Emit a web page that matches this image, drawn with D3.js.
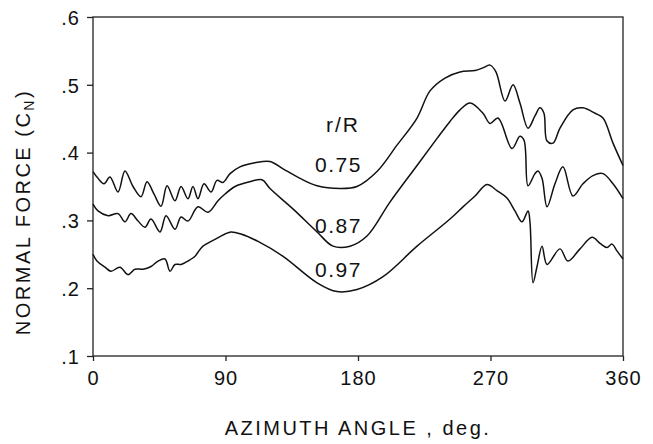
<!DOCTYPE html>
<html>
<head>
<meta charset="utf-8">
<script src="https://cdn.jsdelivr.net/npm/d3@7"></script>
<style>
  body { margin: 0; background: #fff; }
  text { font-family: "Liberation Sans", Arial, sans-serif; fill: #111; }
</style>
</head>
<body>
<svg id="chart" width="653" height="444"></svg>
<script>
// azimuth (deg) and normal force coefficient for each radial station
const r075Deg = [0, 3.4, 7.5, 11.5, 17, 21.7, 27.2, 32.6, 36.7, 41.4, 46.2, 50.3, 55.7, 59.8, 64.5, 67.9, 71.3, 75.4, 80.2, 84.2, 88.3, 93.1, 99.8, 110, 120.2, 129.1, 140.6, 152.2, 167.8, 179.3, 192.9, 206.5, 220.1, 228.9, 239.1, 249.3, 259.5, 264.9, 269.7, 273.7, 279.9, 285.3, 290, 295.5, 300.2, 303.6, 306.3, 308.4, 312.5, 317.2, 326, 332.8, 341, 346.4, 353.2, 360];
const r075Cn = [0.372, 0.362, 0.354, 0.364, 0.342, 0.373, 0.350, 0.335, 0.357, 0.339, 0.321, 0.351, 0.329, 0.350, 0.332, 0.350, 0.332, 0.354, 0.342, 0.359, 0.356, 0.369, 0.379, 0.385, 0.387, 0.376, 0.362, 0.351, 0.347, 0.350, 0.372, 0.411, 0.451, 0.491, 0.510, 0.519, 0.521, 0.525, 0.529, 0.519, 0.476, 0.500, 0.473, 0.436, 0.454, 0.466, 0.458, 0.417, 0.414, 0.436, 0.463, 0.466, 0.458, 0.451, 0.414, 0.381];

const r087Deg = [0, 3.4, 10.2, 17, 21.7, 25.8, 30.6, 35.3, 39.4, 45.5, 49.6, 55.7, 59.8, 64.5, 71.3, 78.1, 84.9, 89.7, 96.5, 106.6, 114.8, 120.2, 135.8, 152.2, 163, 174.6, 186.1, 201.7, 220.1, 233.7, 242.5, 249.3, 256.1, 264.9, 269.7, 275.1, 284.6, 290, 292.8, 295.5, 300.2, 302.3, 305, 308.4, 313.8, 319.2, 326, 332.8, 339.6, 346.4, 353.2, 360];
const r087Cn = [0.324, 0.314, 0.307, 0.310, 0.298, 0.310, 0.299, 0.290, 0.302, 0.283, 0.307, 0.287, 0.305, 0.299, 0.320, 0.312, 0.329, 0.339, 0.350, 0.357, 0.360, 0.347, 0.317, 0.283, 0.262, 0.262, 0.277, 0.327, 0.381, 0.421, 0.446, 0.463, 0.473, 0.458, 0.443, 0.451, 0.406, 0.424, 0.418, 0.351, 0.369, 0.373, 0.362, 0.320, 0.354, 0.379, 0.336, 0.354, 0.366, 0.369, 0.354, 0.332];

const r097Deg = [0, 2.7, 8.2, 12.2, 18.3, 23.8, 28.5, 34, 39.4, 44.2, 48.9, 52.3, 55.7, 59.8, 64.5, 69.3, 71.3, 74.7, 82.9, 89.7, 93.7, 100.5, 112.1, 129.1, 152.2, 165.7, 179.3, 197, 220.1, 242.5, 251.3, 259.5, 267.6, 274.4, 281.2, 286.6, 291.4, 295.5, 296.8, 298.9, 301.6, 305, 308.4, 317.2, 322.6, 330.8, 339, 344.4, 349.1, 352.5, 355.9, 360];
const r097Cn = [0.250, 0.240, 0.231, 0.225, 0.231, 0.220, 0.228, 0.228, 0.232, 0.240, 0.243, 0.225, 0.235, 0.235, 0.240, 0.247, 0.253, 0.262, 0.272, 0.280, 0.283, 0.280, 0.269, 0.247, 0.208, 0.195, 0.198, 0.217, 0.262, 0.302, 0.320, 0.336, 0.353, 0.344, 0.333, 0.314, 0.298, 0.314, 0.298, 0.208, 0.232, 0.262, 0.235, 0.258, 0.240, 0.258, 0.275, 0.266, 0.260, 0.265, 0.255, 0.243];

const xTicks = [0, 90, 180, 270, 360];
const yTicks = [0.1, 0.2, 0.3, 0.4, 0.5, 0.6];
const stationLabels = ["0.75", "0.87", "0.97"];

const svg = d3.select('#chart');
const x = d3.scaleLinear().domain([0, 360]).range([93, 623]);
const y = d3.scaleLinear().domain([0.1, 0.6]).range([356, 17]);

// frame
svg.append('rect')
    .attr('x', x(0)).attr('y', y(0.6))
    .attr('width', x(360) - x(0)).attr('height', y(0.1) - y(0.6))
    .attr('fill', 'none').attr('stroke', '#222').attr('stroke-width', 1.3);

const xAxis = svg.append('g')
    .attr('transform', 'translate(0,' + y(0.1) + ')')
    .call(d3.axisBottom(x).tickValues(xTicks).tickSize(5).tickPadding(10));
const yAxis = svg.append('g')
    .attr('transform', 'translate(' + x(0) + ',0)')
    .call(d3.axisLeft(y).tickValues(yTicks).tickSize(6).tickPadding(7)
        .tickFormat(d => d3.format('.1f')(d).replace(/^0/, '')));

[xAxis, yAxis].forEach(a => {
    a.select('.domain').remove();
    a.selectAll('line').attr('stroke', '#222').attr('stroke-width', 1.3);
    a.selectAll('text')
        .style('font-family', '"Liberation Sans", Arial, sans-serif')
        .style('font-size', '20px')
        .style('letter-spacing', '1px')
        .attr('fill', '#111');
});
yAxis.selectAll('text').attr('dy', '0.36em');

const line = d3.line()
    .x(d => x(d[0]))
    .y(d => y(d[1]))
    .curve(d3.curveCatmullRom.alpha(0.5));

const series = [
    d3.zip(r075Deg, r075Cn),
    d3.zip(r087Deg, r087Cn),
    d3.zip(r097Deg, r097Cn)
];

svg.selectAll('path.curve')
    .data(series)
    .enter()
    .append('path')
    .attr('class', 'curve')
    .attr('d', line)
    .attr('fill', 'none')
    .attr('stroke', '#111')
    .attr('stroke-width', 1.5)
    .attr('stroke-linejoin', 'round');

// station labels
svg.append('text')
    .attr('x', 326).attr('y', 132)
    .style('font-size', '21px').style('letter-spacing', '2px')
    .text('r/R');
const labelY = [172, 233, 277];
svg.selectAll('text.station')
    .data(stationLabels)
    .enter()
    .append('text')
    .attr('class', 'station')
    .attr('x', 315)
    .attr('y', (d, i) => labelY[i])
    .style('font-size', '21px').style('letter-spacing', '1.5px')
    .text(d => d);

// axis titles
svg.append('text')
    .attr('x', 358).attr('y', 435)
    .attr('text-anchor', 'middle')
    .style('font-size', '20px').style('letter-spacing', '2.5px')
    .text('AZIMUTH ANGLE , deg.');

const yTitle = svg.append('text')
    .attr('transform', 'translate(30,212) rotate(-90)')
    .attr('text-anchor', 'middle')
    .style('font-size', '20px').style('letter-spacing', '2.5px');
yTitle.append('tspan').text('NORMAL FORCE (C');
yTitle.append('tspan').attr('dy', 4).style('font-size', '14px').text('N');
yTitle.append('tspan').attr('dy', -4).text(')');
</script>
</body>
</html>
